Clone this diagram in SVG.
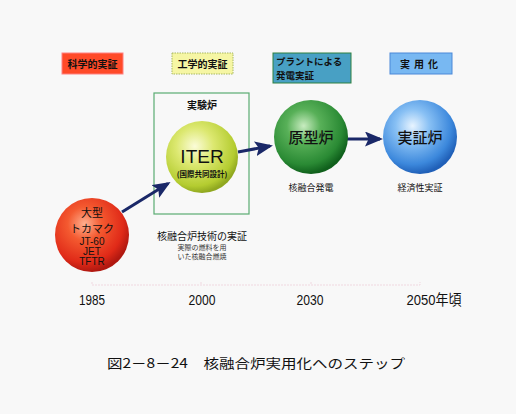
<svg xmlns="http://www.w3.org/2000/svg" width="516" height="414" viewBox="0 0 516 414">
<style>
text{font-family:"Noto Sans CJK JP","Noto Sans",sans-serif;fill:#111;text-anchor:middle}
.tag{font-size:10px;font-weight:bold}
.lab{font-size:10px}
.sm{font-size:7px;fill:#333}
.lat{font-family:"Liberation Sans","Noto Sans CJK JP",sans-serif}
.yr{font-family:"Liberation Sans","Noto Sans CJK JP",sans-serif;font-size:15px}
.arrow{stroke:#1a2868;stroke-width:3;fill:none;marker-end:url(#ah)}
</style>
<defs>
<marker id="ah" markerWidth="6" markerHeight="5" refX="5" refY="2.5" orient="auto" markerUnits="strokeWidth">
<path d="M0,0 L6,2.5 L0,5 L1.2,2.5 Z" fill="#1a2868"/>
</marker>
<radialGradient id="gRed" cx="0.4" cy="0.35" r="0.65">
<stop offset="0" stop-color="#ffb090"/><stop offset="0.35" stop-color="#f45a30"/><stop offset="0.8" stop-color="#e02a18"/><stop offset="1" stop-color="#b01810"/>
</radialGradient>
<radialGradient id="gYel" cx="0.4" cy="0.35" r="0.65">
<stop offset="0" stop-color="#fbfcd8"/><stop offset="0.4" stop-color="#dce870"/><stop offset="0.85" stop-color="#b4cc30"/><stop offset="1" stop-color="#90a820"/>
</radialGradient>
<radialGradient id="gGrn" cx="0.4" cy="0.35" r="0.65">
<stop offset="0" stop-color="#c8ecc0"/><stop offset="0.35" stop-color="#58b058"/><stop offset="0.8" stop-color="#2a8a34"/><stop offset="1" stop-color="#10601c"/>
</radialGradient>
<radialGradient id="gBlu" cx="0.4" cy="0.35" r="0.65">
<stop offset="0" stop-color="#e8f4ff"/><stop offset="0.35" stop-color="#88c0f4"/><stop offset="0.8" stop-color="#3c88dc"/><stop offset="1" stop-color="#2060b8"/>
</radialGradient>
</defs>
<rect width="516" height="414" fill="#f8f8f8"/>

<g id="tag-science">
<rect x="62" y="53" width="61" height="21" fill="#ff4a28" stroke="#ff8080" stroke-width="1"/>
<text class="tag" x="92.5" y="67.5">科学的実証</text>
</g>
<g id="tag-engineering">
<rect x="172" y="53" width="61" height="21" fill="#f6f6a4" stroke="#a8b860" stroke-width="1" stroke-dasharray="1.5 1"/>
<text class="tag" x="202.5" y="67.5">工学的実証</text>
</g>
<g id="tag-plant">
<rect x="273" y="53" width="78" height="30" fill="#48a0c4" stroke="#2e8040" stroke-width="1"/>
<text class="tag" x="276" y="65" style="text-anchor:start;font-size:9.5px">プラントによる</text>
<text class="tag" x="276" y="79" style="text-anchor:start;font-size:9.5px">発電実証</text>
</g>
<g id="tag-practical">
<rect x="390" y="53" width="62" height="21" fill="#78b8f2" stroke="#4a88d8" stroke-width="1"/>
<text class="tag" x="421" y="67.5" style="letter-spacing:4px">実用化</text>
</g>

<g id="experimental-frame">
<rect x="154" y="93" width="95" height="121" fill="none" stroke="#5aac72" stroke-width="1.2"/>
<text class="lab" x="202" y="109" style="font-weight:bold">実験炉</text>
</g>

<g id="connectors">
<line class="arrow" x1="122" y1="212" x2="168" y2="183.5"/>
<line class="arrow" x1="238" y1="152" x2="270" y2="146"/>
<line class="arrow" x1="347" y1="139" x2="380" y2="139"/>
</g>

<g id="node-tokamak">
<circle cx="92" cy="235" r="37" fill="url(#gRed)"/>
<text x="92" y="217" style="font-size:11px">大型</text>
<text x="92" y="233" style="font-size:11px">トカマク</text>
<text class="lat" x="92" y="245" style="font-size:10px">JT-60</text>
<text class="lat" x="92" y="255" style="font-size:10px">JET</text>
<text class="lat" x="92" y="265" style="font-size:10px">TFTR</text>
</g>

<g id="node-iter">
<circle cx="202" cy="157" r="36" fill="url(#gYel)"/>
<text class="lat" x="202" y="163" style="font-size:19px">ITER</text>
<text x="202" y="177" style="font-size:7.5px;font-weight:bold">(国際共同設計)</text>
</g>
<g id="label-iter">
<text class="lab" x="202" y="240">核融合炉技術の実証</text>
<text class="sm" x="202" y="250">実際の燃料を用</text>
<text class="sm" x="202" y="259">いた核融合燃焼</text>
</g>

<g id="node-prototype">
<circle cx="311" cy="137" r="37" fill="url(#gGrn)"/>
<text x="311" y="143" style="font-size:15px;font-weight:500">原型炉</text>
<text class="lab" x="311" y="191" style="font-size:9px">核融合発電</text>
</g>

<g id="node-demo">
<circle cx="420" cy="137" r="37" fill="url(#gBlu)"/>
<text x="420" y="143" style="font-size:15px;font-weight:500">実証炉</text>
<text class="lab" x="420" y="191" style="font-size:9px">経済性実証</text>
</g>

<g id="timeline">
<path d="M92,282 V285 H420 V282 M201,282 V285 M311,282 V285" fill="none" stroke="#f0d8e0" stroke-width="1" stroke-dasharray="2 1"/>
<text class="yr" x="92" y="305" textLength="26" lengthAdjust="spacingAndGlyphs">1985</text>
<text class="yr" x="202" y="305" textLength="27" lengthAdjust="spacingAndGlyphs">2000</text>
<text class="yr" x="310" y="305" textLength="27" lengthAdjust="spacingAndGlyphs">2030</text>
<text class="yr" x="434" y="305" textLength="55" lengthAdjust="spacingAndGlyphs">2050年頃</text>
</g>

<text x="256" y="368" style="font-size:13px" textLength="298" lengthAdjust="spacingAndGlyphs">図2－8－24　核融合炉実用化へのステップ</text>
</svg>
